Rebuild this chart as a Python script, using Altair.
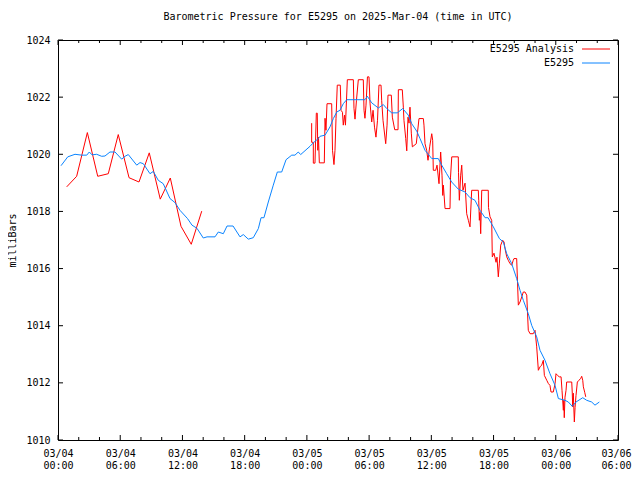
import json
import altair as alt
import pandas as pd

TITLE = "Barometric Pressure for E5295 on 2025-Mar-04 (time in UTC)"
Y_TITLE = "milliBars"
SERIES = ["E5295 Analysis", "E5295"]
COLORS = ["#ff0000", "#0a84ff"]
MONO = "DejaVu Sans Mono"

# hours since 2025-03-04 00:00 UTC
station_hours = [0.29, 0.94, 1.64, 2.29, 2.77, 3.02, 3.28, 3.73, 4.21, 4.53, 5.01, 5.50, 6.14, 6.46, 6.78,
                 7.59, 7.91, 8.23, 8.87, 9.19, 9.67, 10.15, 10.80, 11.28, 11.76, 12.49, 12.92, 13.40, 14.01,
                 14.37, 15.14, 15.46, 15.94, 16.30, 16.88, 17.55, 17.87, 18.35, 18.83, 19.32, 19.58, 19.86,
                 20.28, 20.76, 21.15, 21.57, 21.99, 22.54, 22.85, 23.17, 23.40, 24.30, 24.62, 25.10, 25.27,
                 25.75, 26.23, 26.55, 26.88, 27.19, 27.51, 27.84, 29.60, 29.83, 30.25, 30.89, 31.37, 31.70,
                 32.18, 32.72, 33.24, 33.78, 34.11, 34.59, 34.91, 35.39, 36.04, 36.67, 37.00, 37.48, 37.96,
                 38.60, 39.25, 39.73, 40.21, 40.69, 41.18, 41.47, 41.98, 42.56, 42.94, 43.27, 43.75, 44.23,
                 44.55, 44.87, 45.35, 45.68, 46.16, 46.48, 46.96, 47.44, 47.93, 48.25, 48.89, 49.21, 49.59,
                 49.95, 50.60, 50.98, 51.46, 51.78, 52.20]
station_mb = [1019.60, 1019.91, 1020.00, 1019.97, 1019.97, 1020.08, 1019.98, 1020.00, 1019.93, 1019.94,
              1020.08, 1020.08, 1019.83, 1019.93, 1019.99, 1019.62, 1019.71, 1019.67, 1019.32, 1019.40,
              1019.09, 1018.97, 1018.45, 1018.31, 1018.04, 1017.75, 1017.52, 1017.41, 1017.07, 1017.11,
              1017.11, 1017.28, 1017.22, 1017.49, 1017.49, 1017.11, 1017.19, 1017.03, 1017.08, 1017.40,
              1017.78, 1017.78, 1018.33, 1018.92, 1019.38, 1019.38, 1019.81, 1019.97, 1019.97, 1020.08,
              1019.99, 1020.28, 1020.40, 1020.55, 1020.63, 1020.67, 1020.96, 1021.25, 1021.48, 1021.54,
              1021.77, 1021.91, 1021.91, 1022.03, 1021.80, 1021.62, 1021.74, 1021.60, 1021.45, 1021.45,
              1021.60, 1021.37, 1021.07, 1020.81, 1020.55, 1020.14, 1019.85, 1019.85, 1019.62, 1019.32,
              1019.03, 1018.78, 1018.68, 1018.48, 1018.39, 1018.04, 1017.78, 1017.78, 1017.46, 1017.05,
              1016.93, 1016.52, 1016.17, 1015.65, 1015.24, 1014.89, 1014.42, 1014.01, 1013.61, 1013.14,
              1012.79, 1012.32, 1011.91, 1011.45, 1011.39, 1011.33, 1011.18, 1011.33, 1011.48, 1011.39,
              1011.33, 1011.22, 1011.33]

analysis1_hours = [0.84, 1.80, 2.83, 3.83, 4.85, 5.81, 6.85, 7.81, 8.80, 9.86, 10.83, 11.86, 12.85, 13.86]
analysis1_mb = [1018.86, 1019.23, 1020.76, 1019.23, 1019.32, 1020.69, 1019.18, 1019.03, 1020.05, 1018.43,
                1019.17, 1017.48, 1016.85, 1018.01]

analysis2_hours = [24.46, 24.46, 24.62, 24.62, 24.78, 24.91, 25.00, 25.05, 25.12, 25.20,
                   25.68, 25.75, 25.84, 25.94, 26.39, 26.47, 26.61, 26.71, 26.81, 26.93,
                   27.22, 27.29, 27.43, 27.51, 27.63, 27.72, 27.90, 28.48, 28.54, 28.64,
                   28.78, 28.96, 29.44, 29.51, 29.60, 29.70, 29.84, 29.99, 30.09, 30.25,
                   30.38, 30.52, 30.66, 30.81, 30.95, 31.15, 31.21, 31.34, 31.60, 31.73,
                   31.82, 32.14, 32.24, 32.47, 32.79, 32.82, 33.20, 33.30, 33.36, 33.53,
                   33.63, 33.75, 33.85, 33.94, 34.07, 34.17, 34.55, 34.81, 35.23, 35.29,
                   35.39, 35.55, 35.68, 35.84, 36.04, 36.13, 36.19, 36.42, 36.55, 36.74,
                   36.90, 37.03, 37.10, 37.16, 37.32, 37.80, 37.85, 37.97, 38.60, 38.62,
                   38.70, 38.83, 38.93, 39.05, 39.25, 39.41, 39.57, 39.73, 39.89, 40.53,
                   40.57, 40.63, 40.69, 40.76, 40.86, 41.49, 41.51, 41.66, 41.82, 41.88,
                   42.04, 42.24, 42.33, 42.46, 42.56, 42.69, 42.88, 43.01, 43.10, 43.27,
                   43.42, 43.59, 43.75, 43.90, 43.97, 44.23, 44.39, 44.55, 44.72, 44.87,
                   45.03, 45.20, 45.35, 45.52, 45.83, 46.00, 46.16, 46.32, 46.48, 46.64,
                   46.80, 46.90, 47.13, 47.28, 47.44, 47.54, 47.76, 47.93, 48.02, 48.17,
                   48.34, 48.51, 48.60, 48.73, 48.77, 48.82, 48.89, 48.99, 49.05, 49.54,
                   49.59, 49.63, 49.69, 49.79, 49.86, 49.95, 50.08, 50.24, 50.41, 50.50,
                   50.60, 50.66, 50.79, 50.89]
analysis2_mb = [1021.09, 1020.42, 1020.42, 1019.69, 1019.69, 1021.44, 1021.44, 1020.14, 1020.60, 1019.70,
                1019.70, 1021.26, 1020.84, 1021.77, 1021.77, 1020.14, 1019.64, 1020.14, 1021.26, 1022.42,
                1022.42, 1021.54, 1021.47, 1021.02, 1021.37, 1021.02, 1022.61, 1022.61, 1021.61, 1021.23,
                1021.89, 1022.61, 1022.61, 1021.54, 1021.26, 1021.72, 1022.71, 1022.71, 1021.79, 1021.13,
                1021.54, 1020.95, 1020.60, 1021.19, 1022.42, 1022.42, 1021.89, 1021.19, 1020.37, 1021.02,
                1022.07, 1022.07, 1021.30, 1020.86, 1020.86, 1022.26, 1022.26, 1021.65, 1021.19, 1020.55,
                1020.12, 1021.30, 1021.09, 1021.65, 1020.74, 1020.26, 1020.37, 1021.25, 1021.25, 1021.02,
                1020.37, 1020.14, 1019.79, 1020.26, 1020.72, 1020.49, 1019.44, 1019.44, 1019.62, 1018.97,
                1020.08, 1019.27, 1018.56, 1018.92, 1018.10, 1018.10, 1019.20, 1019.91, 1019.91, 1019.37,
                1018.39, 1019.27, 1019.62, 1018.74, 1018.99, 1017.92, 1017.69, 1017.46, 1018.74, 1018.74,
                1018.39, 1017.69, 1017.97, 1017.22, 1018.74, 1018.74, 1018.14, 1017.81, 1017.69, 1016.41,
                1016.54, 1016.22, 1016.40, 1015.71, 1016.19, 1016.82, 1016.99, 1016.93, 1016.71, 1016.41,
                1016.29, 1016.17, 1016.12, 1016.29, 1016.35, 1016.35, 1014.72, 1014.83, 1015.01, 1015.18,
                1015.18, 1015.07, 1013.84, 1013.72, 1013.72, 1013.84, 1013.26, 1012.44, 1012.56, 1012.62,
                1012.79, 1012.26, 1012.09, 1011.98, 1011.91, 1011.68, 1011.68, 1011.97, 1012.32, 1012.26,
                1012.21, 1012.21, 1011.74, 1011.04, 1011.39, 1010.78, 1011.50, 1011.74, 1012.03, 1012.03,
                1011.64, 1011.16, 1011.64, 1010.63, 1011.14, 1011.56, 1012.03, 1012.09, 1012.16, 1012.23,
                1012.09, 1011.86, 1011.67, 1011.51]

x_major = [0, 6, 12, 18, 24, 30, 36, 42, 48, 54]
x_minor = [2, 4, 8, 10, 14, 16, 20, 22, 26, 28, 32, 34, 38, 40, 44, 46, 50, 52]
y_ticks = [1010, 1012, 1014, 1016, 1018, 1020, 1022, 1024]
date_labels = ["03/04", "03/04", "03/04", "03/04", "03/05", "03/05", "03/05", "03/05", "03/06", "03/06"]
time_labels = ["00:00", "06:00", "12:00", "18:00", "00:00", "06:00", "12:00", "18:00", "00:00", "06:00"]

W, H = 560, 400

xs = alt.Scale(domain=[0, 54], nice=False, zero=False)
ys = alt.Scale(domain=[1010, 1024], nice=False, zero=False)
cs = alt.Scale(domain=SERIES, range=COLORS)

station = pd.DataFrame({"h": station_hours, "mb": station_mb, "series": SERIES[1], "seg": 0})
analysis = pd.concat([
    pd.DataFrame({"h": analysis1_hours, "mb": analysis1_mb, "series": SERIES[0], "seg": 1}),
    pd.DataFrame({"h": analysis2_hours, "mb": analysis2_mb, "series": SERIES[0], "seg": 2}),
], ignore_index=True)
analysis["order"] = range(len(analysis))
station["order"] = range(len(station))

label_expr = "[" + json.dumps(date_labels) + "[round(datum.value/6)], " + json.dumps(time_labels) + "[round(datum.value/6)]]"

x_axis = alt.Axis(values=x_major, labelExpr=label_expr, title=None, labelPadding=8,
                  labelLineHeight=12, labelAngle=0, labelAlign="center", labelBound=False,
                  labelOverlap=False,
                  labelOffset={"condition": {"test": "datum.value >= 54", "value": -2}, "value": 0})
y_axis = alt.Axis(values=y_ticks, format="d", title=Y_TITLE, labelPadding=8, titlePadding=8)

red_line = alt.Chart(analysis).mark_line(strokeWidth=1, clip=True).encode(
    x=alt.X("h:Q", scale=xs, axis=x_axis),
    y=alt.Y("mb:Q", scale=ys, axis=y_axis),
    color=alt.Color("series:N", scale=cs, legend=None),
    detail="seg:N",
    order="order:Q",
)
blue_line = alt.Chart(station).mark_line(strokeWidth=1, clip=True).encode(
    x=alt.X("h:Q", scale=xs),
    y=alt.Y("mb:Q", scale=ys),
    color=alt.Color("series:N", scale=cs, legend=None),
    order="order:Q",
)

xmaj = pd.DataFrame({"h": x_major})
xmin = pd.DataFrame({"h": x_minor})
yt = pd.DataFrame({"mb": y_ticks})

ticks = [
    alt.Chart(xmaj).mark_rule(color="black").encode(x=alt.X("h:Q", scale=xs), y=alt.value(H), y2=alt.value(H - 5)),
    alt.Chart(xmaj).mark_rule(color="black").encode(x=alt.X("h:Q", scale=xs), y=alt.value(0), y2=alt.value(5)),
    alt.Chart(xmin).mark_rule(color="black").encode(x=alt.X("h:Q", scale=xs), y=alt.value(H), y2=alt.value(H - 3)),
    alt.Chart(xmin).mark_rule(color="black").encode(x=alt.X("h:Q", scale=xs), y=alt.value(0), y2=alt.value(3)),
    alt.Chart(yt).mark_rule(color="black").encode(y=alt.Y("mb:Q", scale=ys), x=alt.value(0), x2=alt.value(5)),
    alt.Chart(yt).mark_rule(color="black").encode(y=alt.Y("mb:Q", scale=ys), x=alt.value(W), x2=alt.value(W - 5)),
]

legend_layers = []
for i, (name, col) in enumerate(zip(SERIES, COLORS)):
    ldf = pd.DataFrame({"name": [name]})
    yy = 9 + 14 * i
    legend_layers.append(
        alt.Chart(ldf).mark_text(align="right", baseline="middle", font=MONO, fontSize=10, color="black").encode(
            x=alt.value(516), y=alt.value(yy), text="name:N"))
    legend_layers.append(
        alt.Chart(ldf).mark_rule(color=col, strokeWidth=1).encode(
            x=alt.value(524), x2=alt.value(552), y=alt.value(yy)))

chart = alt.layer(red_line, blue_line, *ticks, *legend_layers).properties(
    width=W, height=H,
    title=alt.TitleParams(TITLE, anchor="middle", font=MONO, fontSize=10, fontWeight="normal",
                          color="black", offset=13),
    autosize=alt.AutoSizeParams(type="none"),
    padding={"left": 50, "top": 32, "right": 14, "bottom": 30},
).configure_axis(
    grid=False, domain=False, ticks=False,
    labelFont=MONO, labelFontSize=10, labelColor="black",
    titleFont=MONO, titleFontSize=10, titleFontWeight="normal", titleColor="black",
).configure_view(stroke="black", strokeWidth=1)

chart.save("out.html", embed_options={"renderer": "svg", "actions": False})
